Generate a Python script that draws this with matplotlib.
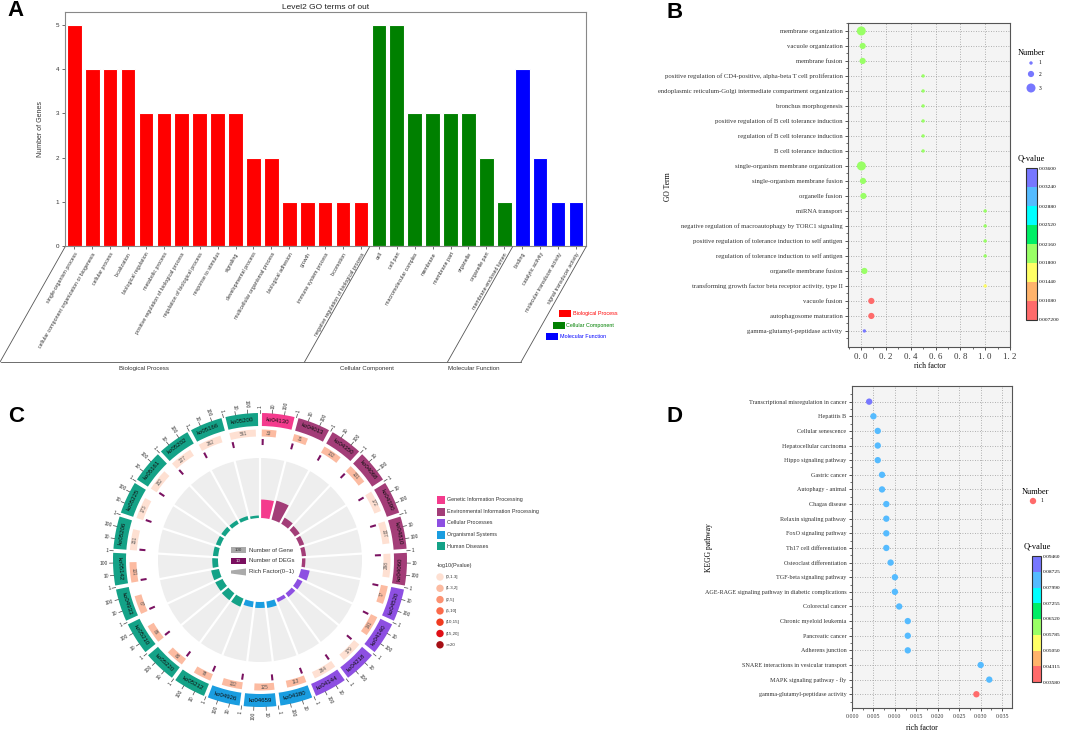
import numpy as np
import matplotlib
matplotlib.use('Agg')
import matplotlib.pyplot as plt
from matplotlib.patches import Wedge, Rectangle, Circle, Polygon
from matplotlib.colors import ListedColormap, BoundaryNorm
import matplotlib.colorbar as mcolorbar
from matplotlib.ticker import FixedLocator

W, H = 1065, 733
SANS = 'Liberation Sans'
SERIF = 'Liberation Serif'
plt.rcParams['font.family'] = [SANS, 'DejaVu Sans']

# ---------------- Panel A data ----------------
go_terms_a = ['single-organism process', 'cellular component organization or biogenesis', 'cellular process',
              'localization', 'biological regulation', 'metabolic process',
              'positive regulation of biological process', 'regulation of biological process',
              'response to stimulus', 'signaling', 'developmental process', 'multicellular organismal process',
              'biological adhesion', 'growth', 'immune system process', 'locomotion',
              'negative regulation of biological process',
              'cell', 'cell part', 'macromolecular complex', 'membrane', 'membrane part', 'organelle',
              'organelle part', 'membrane-enclosed lumen',
              'binding', 'catalytic activity', 'molecular transducer activity', 'signal transducer activity']
go_counts_a = [5, 4, 4, 4, 3, 3, 3, 3, 3, 3, 2, 2, 1, 1, 1, 1, 1,
               5, 5, 3, 3, 3, 3, 2, 1,
               4, 2, 1, 1]
group_names_a = ['Biological Process', 'Cellular Component', 'Molecular Function']
group_sizes_a = [17, 8, 4]
group_colors_a = ['#ff0000', '#008000', '#0000ff']

# ---------------- Panel B data ----------------
go_terms_b = ['membrane organization', 'vacuole organization', 'membrane fusion',
              'positive regulation of CD4-positive, alpha-beta T cell proliferation',
              'endoplasmic reticulum-Golgi intermediate compartment organization',
              'bronchus morphogenesis', 'positive regulation of B cell tolerance induction',
              'regulation of B cell tolerance induction', 'B cell tolerance induction',
              'single-organism membrane organization', 'single-organism membrane fusion',
              'organelle fusion', 'miRNA transport',
              'negative regulation of macroautophagy by TORC1 signaling',
              'positive regulation of tolerance induction to self antigen',
              'regulation of tolerance induction to self antigen', 'organelle membrane fusion',
              'transforming growth factor beta receptor activity, type II',
              'vacuole fusion', 'autophagosome maturation', 'gamma-glutamyl-peptidase activity']
rich_b = [0.002, 0.013, 0.013, 0.5, 0.5, 0.5, 0.5, 0.5, 0.5, 0.003, 0.016, 0.019,
          1.0, 1.0, 1.0, 1.0, 0.027, 1.0, 0.083, 0.083, 0.027]
number_b = [3, 2, 2, 1, 1, 1, 1, 1, 1, 3, 2, 2, 1, 1, 1, 1, 2, 1, 2, 2, 1]
q_b = [0.0200, 0.0200, 0.0200, 0.0205, 0.0205, 0.0205, 0.0205, 0.0205, 0.0205, 0.0200, 0.0200, 0.0200,
       0.0205, 0.0205, 0.0205, 0.0205, 0.0200, 0.0160, 0.0080, 0.0080, 0.0355]
q_levels_b = [0.0072, 0.0108, 0.0144, 0.0180, 0.0216, 0.0252, 0.0288, 0.0324, 0.0360]
q_labels_b = ['0.007200', '0.01080', '0.01440', '0.01800', '0.02160', '0.02520', '0.02880', '0.03240', '0.03600']

# ---------------- Panel C data ----------------
kegg_ids_c = ['ko04130', 'ko04013', 'ko04350', 'ko04068', 'ko04390', 'ko04810', 'ko04060',
              'ko04520', 'ko04140', 'ko04218', 'ko04144', 'ko04380', 'ko04659', 'ko04926',
              'ko05212', 'ko05220', 'ko05210', 'ko04933', 'ko05142', 'ko05206', 'ko05225',
              'ko05161', 'ko05202', 'ko05166', 'ko05200']
kegg_class_c = [0, 1, 1, 1, 1, 1, 1, 2, 2, 2, 2, 3, 3, 3, 4, 4, 4, 4, 4, 4, 4, 4, 4, 4, 4]
genes_c = [33, 31, 102, 131, 172, 207, 298, 77, 141, 179, 264, 113, 125, 132,
           78, 80, 86, 87, 131, 151, 173, 182, 227, 262, 561]
degs_c = [1] * 25
rich_c = [0.0303, 0.0323, 0.0098, 0.0076, 0.0058, 0.0048, 0.0034, 0.0130, 0.0071, 0.0056, 0.0038,
          0.0088, 0.0080, 0.0076, 0.0128, 0.0125, 0.0116, 0.0115, 0.0076, 0.0066, 0.0058, 0.0055,
          0.0044, 0.0038, 0.0018]
plevel_c = [1, 1, 1, 1, 0, 0, 0, 1, 1, 0, 0, 1, 1, 1, 1, 1, 1, 1, 1, 0, 0, 0, 0, 0, 0]
class_names_c = ['Genetic Information Processing', 'Environmental Information Processing',
                 'Cellular Processes', 'Organismal Systems', 'Human Diseases']
class_colors_c = ['#f43b8d', '#a33d78', '#8d4fe2', '#1a9de0', '#14a287']
p_labels_c = ['(0,1.3]', '(1.3,2]', '(2,5]', '(5,10]', '(10,15]', '(15,20]', '>=20']
p_colors_c = ['#fee0d2', '#fcbba1', '#fc9272', '#fb6a4a', '#f03b20', '#e00f16', '#a50f15']

# ---------------- Panel D data ----------------
kegg_terms_d = ['Transcriptional misregulation in cancer', 'Hepatitis B', 'Cellular senescence',
                'Hepatocellular carcinoma', 'Hippo signaling pathway', 'Gastric cancer',
                'Autophagy - animal', 'Chagas disease', 'Relaxin signaling pathway',
                'FoxO signaling pathway', 'Th17 cell differentiation', 'Osteoclast differentiation',
                'TGF-beta signaling pathway', 'AGE-RAGE signaling pathway in diabetic complications',
                'Colorectal cancer', 'Chronic myeloid leukemia', 'Pancreatic cancer',
                'Adherens junction', 'SNARE interactions in vesicular transport',
                'MAPK signaling pathway - fly', 'gamma-glutamyl-peptidase activity']
rich_d = [0.004, 0.005, 0.006, 0.006, 0.006, 0.007, 0.007, 0.008, 0.008, 0.008, 0.008, 0.009,
          0.010, 0.010, 0.011, 0.013, 0.013, 0.013, 0.030, 0.032, 0.029]
number_d = [1] * 21
q_d = [0.0940] + [0.0850] * 19 + [0.0360]
q_levels_d = [0.0358, 0.04315, 0.0505, 0.05785, 0.0652, 0.07255, 0.0799, 0.08725, 0.0946]
q_labels_d = ['0.03580', '0.04315', '0.05050', '0.05785', '0.06520', '0.07255', '0.07990', '0.08725', '0.09460']

q_colors = ['#ff6b6b', '#ffb36b', '#ffff66', '#99ff66', '#00ee66', '#00ffff', '#55bbff', '#7777ff']

fig = plt.figure(figsize=(W / 100, H / 100), dpi=100)


def rect(l, t, r, b):
    return [l / W, 1 - b / H, (r - l) / W, (b - t) / H]


# ================= Panel A =================
axA = fig.add_axes(rect(65, 12, 586, 246))
xa = np.arange(len(go_counts_a))
bar_cols = []
for name, n, c in zip(group_names_a, group_sizes_a, group_colors_a):
    bar_cols += [c] * n
axA.bar(xa, go_counts_a, width=0.82, color=bar_cols, edgecolor='white', linewidth=0.8)
axA.set_xlim(-0.52, 28.56)
axA.set_ylim(0, 5.29)
axA.set_yticks(range(6))
axA.set_xticks(xa)
axA.set_xticklabels(go_terms_a, rotation=60, ha='right', va='top', rotation_mode='anchor', fontsize=3.8,
                    color='#333')
axA.tick_params(axis='y', labelsize=4.5, length=2.5, width=0.5, colors='#333', pad=1.5)
axA.tick_params(axis='x', length=2.5, width=0.5, colors='#333', pad=1.5)
for s in axA.spines.values():
    s.set_color('#888')
    s.set_linewidth(0.8)
axA.set_title('Level2 GO terms of out', fontsize=6, pad=2.5, color='#222')

# ================= Panel B =================
cmap = ListedColormap(q_colors)
normB = BoundaryNorm(q_levels_b, cmap.N)
normD = BoundaryNorm(q_levels_d, cmap.N)
size_map_b = {1: 6, 2: 20, 3: 42}


def style_dot_axes(ax, labels, fs):
    ax.set_facecolor('#f4f4f4')
    n = len(labels)
    ax.set_yticks(np.arange(n))
    ax.set_yticklabels(labels, fontsize=fs, family=SERIF, color='#222')
    ax.yaxis.set_minor_locator(FixedLocator(np.arange(-0.5, n + 0.6, 1)))
    ax.grid(True, which='major', linestyle=(0, (1, 2)), color='#999999', linewidth=0.6)
    ax.set_axisbelow(True)
    ax.tick_params(which='major', length=2.5, width=0.6, colors='#333', pad=1.5)
    ax.tick_params(which='minor', length=1.5, width=0.5, colors='#333')
    for s in ax.spines.values():
        s.set_color('#555')
        s.set_linewidth(0.8)


axB = fig.add_axes(rect(848, 23, 1010, 347))
yb = np.arange(len(go_terms_b))
axB.scatter(rich_b, yb, s=[size_map_b[v] for v in number_b], c=q_b, cmap=cmap, norm=normB,
            edgecolors='none', zorder=3)
style_dot_axes(axB, go_terms_b, 4.8)
axB.set_xlim(-0.105, 1.2)
axB.set_ylim(len(go_terms_b) - 1 + 1.07, -0.53)
xtb = [0.0, 0.2, 0.4, 0.6, 0.8, 1.0, 1.2]
axB.set_xticks(xtb)
axB.set_xticklabels(['0. 0', '0. 2', '0. 4', '0. 6', '0. 8', '1. 0', '1. 2'], fontsize=6.3, family=SERIF)
axB.xaxis.set_minor_locator(FixedLocator(np.arange(-0.1, 1.25, 0.1)))

# ================= Panel D =================
axD = fig.add_axes(rect(852, 386, 1012, 708))
yd = np.arange(len(kegg_terms_d))
axD.scatter(rich_d, yd, s=[21 for v in number_d], c=q_d, cmap=cmap, norm=normD,
            edgecolors='none', zorder=3)
style_dot_axes(axD, kegg_terms_d, 4.4)
axD.set_xlim(0, 0.0373)
axD.set_ylim(len(kegg_terms_d) - 1 + 0.94, -1.07)
xtd = np.arange(0, 0.0351, 0.005)
axD.set_xticks(xtd)
axD.set_xticklabels(['%.3f' % v for v in xtd], fontsize=4.2, family=SERIF)
axD.xaxis.set_minor_locator(FixedLocator(np.arange(0.0025, 0.0373, 0.005)))


def make_cbar(px, norm, levels, labels):
    cax = fig.add_axes(rect(*px))
    cb = mcolorbar.Colorbar(cax, cmap=cmap, norm=norm, boundaries=levels, ticks=levels,
                            spacing='uniform', orientation='vertical')
    cb.set_ticklabels(labels)
    cax.tick_params(length=0, labelsize=3.9, pad=1.5)
    for lab in cax.get_yticklabels():
        lab.set_family(SERIF)
    cb.outline.set_edgecolor('#333')
    cb.outline.set_linewidth(0.8)


make_cbar((1026, 168, 1036.5, 320), normB, q_levels_b, q_labels_b)
make_cbar((1032, 556, 1041, 682), normD, q_levels_d, q_labels_d)

# ================= Overlay (pixel coordinates) =================
ov = fig.add_axes([0, 0, 1, 1])
ov.set_xlim(0, W)
ov.set_ylim(H, 0)
ov.axis('off')

# panel letters
for lab, (x, y) in zip('ABCD', [(16, 11), (675, 12), (16, 416), (675, 417)]):
    ov.text(x, y, lab, fontsize=16, weight='bold', ha='center', va='center', family=SANS)

# Panel A extras
ov.text(40.6, 129, 'Number of Genes', rotation=90, ha='center', va='center', fontsize=5, color='#333')
bounds_px = [65, 369.5, 512.5, 586]
for bx in bounds_px:
    ov.plot([bx, bx - 65], [247, 362], color='#555', lw=0.6)
ov.plot([0.5, 521], [362, 362], color='#555', lw=0.6)
for name, gx in zip(group_names_a, [144, 367, 474]):
    ov.text(gx, 368.5, name, fontsize=4.4, ha='center', va='center', color='#333')
for i, (name, c) in enumerate(zip(group_names_a, group_colors_a)):
    px0 = 559 - 6.5 * i
    py0 = 313.5 + 11.7 * i
    ov.add_patch(Rectangle((px0, py0 - 3.5), 12, 7, facecolor=c, edgecolor='none'))
    ov.text(px0 + 14, py0, name, fontsize=3.9, color=c, ha='left', va='center')

# Panel B extras
ov.text(668.5, 187, 'GO Term', rotation=90, ha='center', va='center', fontsize=5.5, family=SERIF)
ov.text(930, 366, 'rich factor', ha='center', va='center', fontsize=5.5, family=SERIF)
ov.text(1031, 53, 'Number', ha='center', va='center', fontsize=6, family=SERIF)
for v, yy in zip([1, 2, 3], [63, 74, 88]):
    ov.scatter([1031], [yy], s=size_map_b[v], color='#7777ff', edgecolors='none')
    ov.text(1038.5, yy, str(v), fontsize=4, ha='left', va='center', family=SERIF)
ov.text(1031, 158, 'Q-value', ha='center', va='center', fontsize=6, family=SERIF)

# Panel D extras
ov.text(709, 548, 'KEGG pathway', rotation=90, ha='center', va='center', fontsize=5.5, family=SERIF)
ov.text(922, 728, 'rich factor', ha='center', va='center', fontsize=5.5, family=SERIF)
ov.text(1035, 492, 'Number', ha='center', va='center', fontsize=6, family=SERIF)
ov.scatter([1033], [501], s=21, color='#ff6b6b', edgecolors='none')
ov.text(1040, 501, '1', fontsize=4, ha='left', va='center', family=SERIF)
ov.text(1037, 547, 'Q-value', ha='center', va='center', fontsize=6, family=SERIF)

# Panel C circle
cx, cy = 260, 560
n_c = len(kegg_ids_c)
span = 360.0 / n_c


def pol(r, th):
    t = np.deg2rad(th)
    return cx + r * np.sin(t), cy - r * np.cos(t)


def wedge(r_out, width, t0, t1, color, z=2):
    ov.add_patch(Wedge((cx, cy), r_out, t0 - 90, t1 - 90, width=width, facecolor=color,
                       edgecolor='none', zorder=z))


def tang_rot(th):
    th = th % 360
    return 180 - th if 90 < th < 270 else -th


# gray background annulus
wedge(102, 60, 0, 360, '#eeeeee', z=1)
pad = 0.8
for i in range(n_c):
    t0 = i * span
    t1 = t0 + span
    tm = 0.5 * (t0 + t1)
    col = class_colors_c[kegg_class_c[i]]
    # outer category box
    wedge(147, 13, t0 + pad, t1 - pad, col)
    x, y = pol(140.5, tm)
    ov.text(x, y, kegg_ids_c[i], rotation=tang_rot(tm), rotation_mode='anchor', ha='center',
            va='center', fontsize=4.4, color='#111', zorder=4)
    # log scale ticks 1, 10, 100
    for k, lab in enumerate(['1', '10', '100']):
        th = t0 + k * span / 3
        xa0, ya0 = pol(147, th)
        xa1, ya1 = pol(150.5, th)
        ov.plot([xa0, xa1], [ya0, ya1], color='#444', lw=0.5)
        xt, yt = pol(152, th)
        thm = th % 360
        if thm <= 180:
            rot, ha = 90 - thm, 'left'
        else:
            rot, ha = 270 - thm, 'right'
        ov.text(xt, yt, lab, rotation=rot, rotation_mode='anchor', ha=ha, va='center',
                fontsize=3.5, color='#333')
    # number of genes
    f = np.log10(genes_c[i]) / 3.0
    g1 = t0 + pad + f * (span - 2 * pad)
    wedge(130.5, 7, t0 + pad, g1, p_colors_c[plevel_c[i]])
    x, y = pol(127, 0.5 * (t0 + pad + g1))
    ov.text(x, y, str(genes_c[i]), rotation=tang_rot(0.5 * (t0 + pad + g1)), rotation_mode='anchor',
            ha='center', va='center', fontsize=3.3, color='#555', zorder=4)
    # number of DEGs
    fd = max(np.log10(degs_c[i]) / 3.0, 0.0)
    wedge(121, 6, t0 + pad, t0 + pad + 1.0 + fd * (span - 2 * pad), '#7a1261')
    # rich factor bars
    h = 1.5 + rich_c[i] * 560
    wedge(42 + h, h, t0, t1, col, z=2)

# white separators
for i in range(n_c):
    t0 = i * span
    x0, y0 = pol(40, t0)
    x1, y1 = pol(103, t0)
    ov.plot([x0, x1], [y0, y1], color='white', lw=1.6, zorder=3, solid_capstyle='butt')

# inner legend
ov.add_patch(Rectangle((231, 547), 15, 6, facecolor='#aaaaaa', edgecolor='none'))
ov.text(238.5, 550.2, '100', fontsize=3.2, ha='center', va='center', color='#333')
ov.add_patch(Rectangle((231, 558), 15, 6, facecolor='#7a0f5f', edgecolor='none'))
ov.text(238.5, 561.2, '10', fontsize=3.2, ha='center', va='center', color='#ddd')
ov.add_patch(Polygon([(231, 570.5), (246, 568.5), (246, 575.5), (231, 573.5)], closed=True,
                     facecolor='#aaaaaa', edgecolor='none'))
for txt, yy in zip(['Number of Gene', 'Number of DEGs', 'Rich Factor(0~1)'], [550, 561, 572]):
    ov.text(249, yy, txt, fontsize=4.3, ha='left', va='center', color='#333')

# category legend
for i, (name, c) in enumerate(zip(class_names_c, class_colors_c)):
    yy = 500 + 11.5 * i
    ov.add_patch(Rectangle((436.5, yy - 4), 8.5, 8, facecolor=c, edgecolor='none'))
    ov.text(447.3, yy, name, fontsize=3.9, ha='left', va='center', color='#333')
ov.text(436.5, 566, '-log10(Pvalue)', fontsize=3.9, ha='left', va='center', color='#333')
for i, (lab, c) in enumerate(zip(p_labels_c, p_colors_c)):
    yy = 577 + 11.3 * i
    ov.add_patch(Circle((440, yy), 3.7, facecolor=c, edgecolor='none'))
    ov.text(446, yy, lab, fontsize=3.2, ha='left', va='center', color='#333')

fig.savefig('out.png', dpi=100)
